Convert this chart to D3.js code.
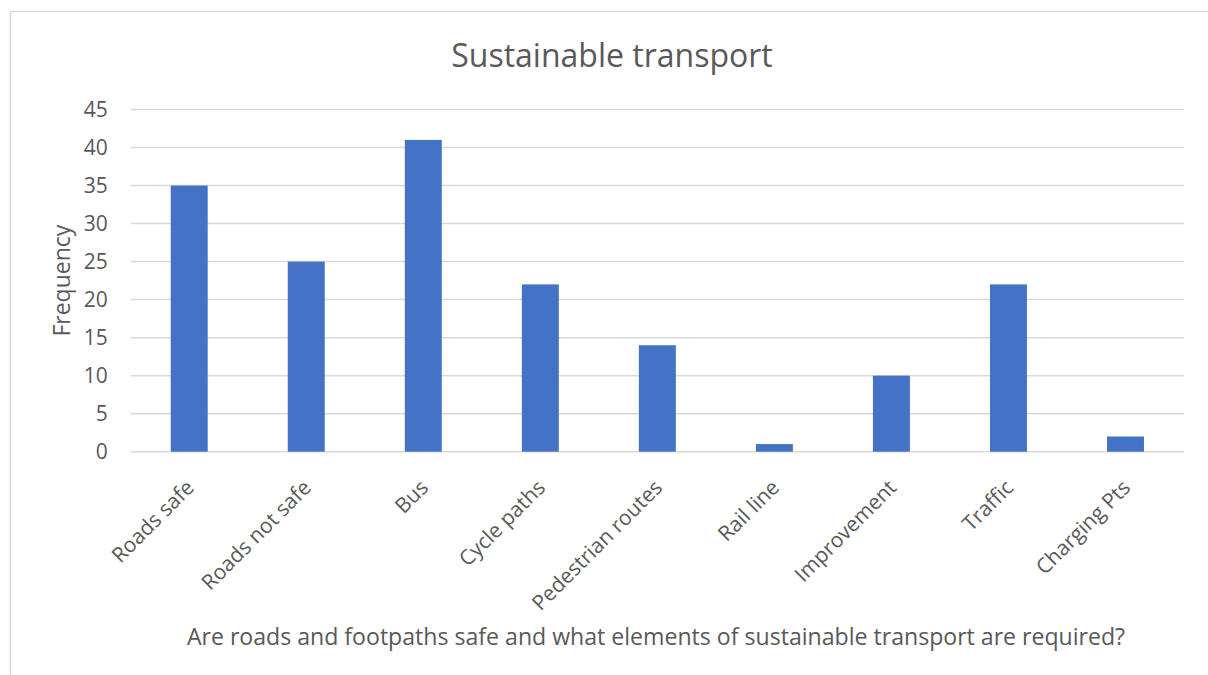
<!DOCTYPE html>
<html>
<head>
<meta charset="utf-8">
<script src="https://cdn.jsdelivr.net/npm/d3@7"></script>
<style>
  html, body { margin: 0; padding: 0; background: #ffffff; }
  svg { display: block; font-family: "Open Sans", "Noto Sans", sans-serif; }
</style>
</head>
<body>
<svg id="chart" width="1208" height="675"></svg>
<script>
// Survey responses on sustainable transport
const categories = ["Roads safe", "Roads not safe", "Bus", "Cycle paths", "Pedestrian routes",
                    "Rail line", "Improvement", "Traffic", "Charging Pts"];
const frequency = [35, 25, 41, 22, 14, 1, 10, 22, 2];
const yTicks = [0, 5, 10, 15, 20, 25, 30, 35, 40, 45];

const titleText = "Sustainable transport";
const yTitle = "Frequency";
const xTitle = "Are roads and footpaths safe and what elements of sustainable transport are required?";

const svg = d3.select("#chart");
const textColor = "#595959";
const gridColor = "#d9d9d9";
const barColor = "#4472c4";

// outer chart frame
svg.append("rect")
  .attr("x", 10.5).attr("y", 11.5)
  .attr("width", 1300).attr("height", 800)
  .attr("fill", "none").attr("stroke", gridColor).attr("stroke-width", 1.5);

const plot = { left: 130.7, right: 1184, top: 109.5, bottom: 451.7 };

const x = d3.scaleBand()
  .domain(categories)
  .range([plot.left, plot.right])
  .paddingInner(0.684)
  .paddingOuter(0.342);

const y = d3.scaleLinear()
  .domain([0, 45])
  .range([plot.bottom, plot.top]);

// horizontal gridlines
svg.append("g").selectAll("line")
  .data(yTicks)
  .join("line")
  .attr("x1", plot.left).attr("x2", plot.right)
  .attr("y1", d => y(d)).attr("y2", d => y(d))
  .attr("stroke", gridColor).attr("stroke-width", 1.5);

// y-axis tick labels
const yAxis = d3.axisLeft(y).tickValues(yTicks).tickSize(0).tickPadding(0);
const yg = svg.append("g")
  .attr("transform", `translate(${plot.left - 23},0)`)
  .call(yAxis);
yg.select(".domain").remove();
yg.selectAll("text")
  .attr("fill", textColor)
  .style("font-size", "21px")
  .style("font-family", "'Open Sans', sans-serif");

// bars
svg.append("g").selectAll("rect")
  .data(frequency)
  .join("rect")
  .attr("x", (d, i) => x(categories[i]))
  .attr("width", x.bandwidth())
  .attr("y", d => y(d))
  .attr("height", d => y(0) - y(d))
  .attr("fill", barColor);

// x-axis category labels, rotated
const xAxis = d3.axisBottom(x).tickSize(0).tickPadding(0);
const xg = svg.append("g")
  .attr("transform", `translate(0,${plot.bottom})`)
  .call(xAxis);
xg.select(".domain").remove();
xg.selectAll("text")
  .attr("fill", textColor)
  .style("font-size", "21px")
  .style("font-family", "'Open Sans', sans-serif")
  .attr("text-anchor", "end")
  .attr("dy", "0.35em")
  .attr("transform", "translate(1,32) rotate(-45)");

// chart title
svg.append("text")
  .attr("x", 612).attr("y", 66.5)
  .attr("text-anchor", "middle")
  .attr("fill", textColor)
  .style("font-size", "32px")
  .text(titleText);

// y-axis title
svg.append("text")
  .attr("transform", `translate(70,${(plot.top + plot.bottom) / 2}) rotate(-90)`)
  .attr("text-anchor", "middle")
  .attr("fill", textColor)
  .style("font-size", "23px")
  .text(yTitle);

// x-axis title
svg.append("text")
  .attr("x", 656).attr("y", 645)
  .attr("text-anchor", "middle")
  .attr("fill", textColor)
  .style("font-size", "23.1px")
  .text(xTitle);
</script>
</body>
</html>
